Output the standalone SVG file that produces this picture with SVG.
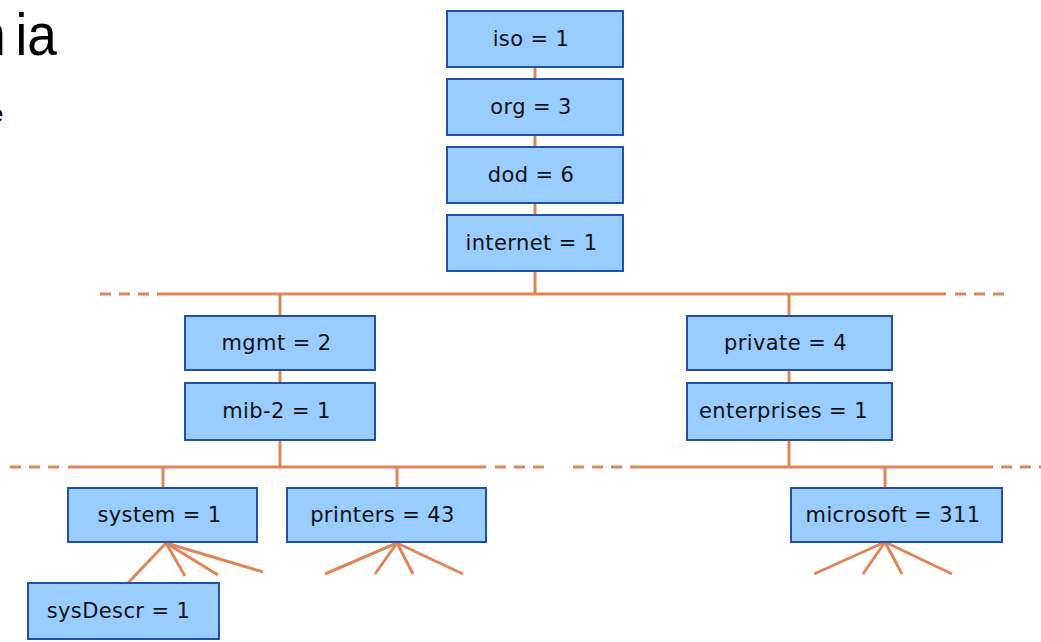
<svg xmlns="http://www.w3.org/2000/svg" width="1041" height="642" viewBox="0 0 1041 642">
<style>
.box{fill:#99ccff;stroke:#2050a8;stroke-width:2}
.lbl{font-family:"DejaVu Sans",Verdana,sans-serif;font-size:21px;letter-spacing:0.4px;fill:#111;text-anchor:middle}
.ln{stroke:#df8658;stroke-width:3;fill:none}
.dash{stroke:#df8658;stroke-width:3;fill:none;stroke-dasharray:11 8}
.title{font-family:"Liberation Sans",Arial,sans-serif;fill:#000}
</style>
<rect width="1041" height="642" fill="#fff"/>
<text class="title" transform="scale(0.9,1)" x="-26.5" y="55" font-size="59">h<tspan dx="11">ia</tspan></text>
<text class="title" x="-10" y="122" font-size="24" fill="#333">e</text>
<g id="connectors">
<line class="ln" x1="535" y1="67" x2="535" y2="79"/>
<line class="ln" x1="535" y1="135" x2="535" y2="147"/>
<line class="ln" x1="535" y1="203" x2="535" y2="215"/>
<line class="ln" x1="535" y1="271" x2="535" y2="294"/>
<line class="dash" x1="100" y1="294" x2="150" y2="294"/>
<line class="ln" x1="157" y1="294" x2="946" y2="294"/>
<line class="dash" x1="955" y1="294" x2="1005" y2="294"/>
<line class="ln" x1="280" y1="294" x2="280" y2="316"/>
<line class="ln" x1="280" y1="370" x2="280" y2="383"/>
<line class="ln" x1="280" y1="440" x2="280" y2="467"/>
<line class="ln" x1="789" y1="294" x2="789" y2="316"/>
<line class="ln" x1="789" y1="370" x2="789" y2="383"/>
<line class="ln" x1="789" y1="440" x2="789" y2="467"/>
<line class="dash" x1="10" y1="467" x2="60" y2="467"/>
<line class="ln" x1="68" y1="467" x2="486" y2="467"/>
<line class="dash" x1="495" y1="467" x2="545" y2="467"/>
<line class="dash" x1="573" y1="467" x2="623" y2="467"/>
<line class="ln" x1="630" y1="467" x2="993" y2="467"/>
<line class="dash" x1="1001" y1="467" x2="1051" y2="467"/>
<line class="ln" x1="163" y1="467" x2="163" y2="488"/>
<line class="ln" x1="397" y1="467" x2="397" y2="488"/>
<line class="ln" x1="885" y1="467" x2="885" y2="488"/>
<line class="ln" x1="166" y1="543" x2="128" y2="583"/>
<line class="ln" x1="166" y1="543" x2="185" y2="576"/>
<line class="ln" x1="166" y1="543" x2="218" y2="575"/>
<line class="ln" x1="166" y1="543" x2="263" y2="572"/>
<line class="ln" x1="397" y1="543" x2="325" y2="574"/>
<line class="ln" x1="397" y1="543" x2="375" y2="574"/>
<line class="ln" x1="397" y1="543" x2="413" y2="574"/>
<line class="ln" x1="397" y1="543" x2="463" y2="574"/>
<line class="ln" x1="885" y1="542" x2="814" y2="574"/>
<line class="ln" x1="885" y1="542" x2="863" y2="574"/>
<line class="ln" x1="885" y1="542" x2="902" y2="574"/>
<line class="ln" x1="885" y1="542" x2="952" y2="574"/>
</g>
<g id="iso"><rect class="box" x="447" y="11" width="176" height="56"/><text class="lbl" x="531" y="46">iso = 1</text></g>
<g id="org"><rect class="box" x="447" y="79" width="176" height="56"/><text class="lbl" x="531" y="114">org = 3</text></g>
<g id="dod"><rect class="box" x="447" y="147" width="176" height="56"/><text class="lbl" x="531" y="182">dod = 6</text></g>
<g id="internet"><rect class="box" x="447" y="215" width="176" height="56"/><text class="lbl" x="531.5" y="250">internet = 1</text></g>
<g id="mgmt"><rect class="box" x="185" y="316" width="190" height="54"/><text class="lbl" x="276.5" y="350">mgmt = 2</text></g>
<g id="mib2"><rect class="box" x="185" y="383" width="190" height="57"/><text class="lbl" x="276.5" y="418">mib-2 = 1</text></g>
<g id="private"><rect class="box" x="687" y="316" width="205" height="54"/><text class="lbl" x="785.5" y="350">private = 4</text></g>
<g id="enterprises"><rect class="box" x="687" y="383" width="205" height="57"/><text class="lbl" x="783.5" y="418">enterprises = 1</text></g>
<g id="system"><rect class="box" x="68" y="488" width="189" height="54"/><text class="lbl" x="159.5" y="522">system = 1</text></g>
<g id="printers"><rect class="box" x="287" y="488" width="199" height="54"/><text class="lbl" x="382.5" y="522">printers = 43</text></g>
<g id="microsoft"><rect class="box" x="791" y="488" width="211" height="54"/><text class="lbl" x="893" y="522">microsoft = 311</text></g>
<g id="sysDescr"><rect class="box" x="28" y="583" width="191" height="56"/><text class="lbl" x="118.5" y="618">sysDescr = 1</text></g>
</svg>
